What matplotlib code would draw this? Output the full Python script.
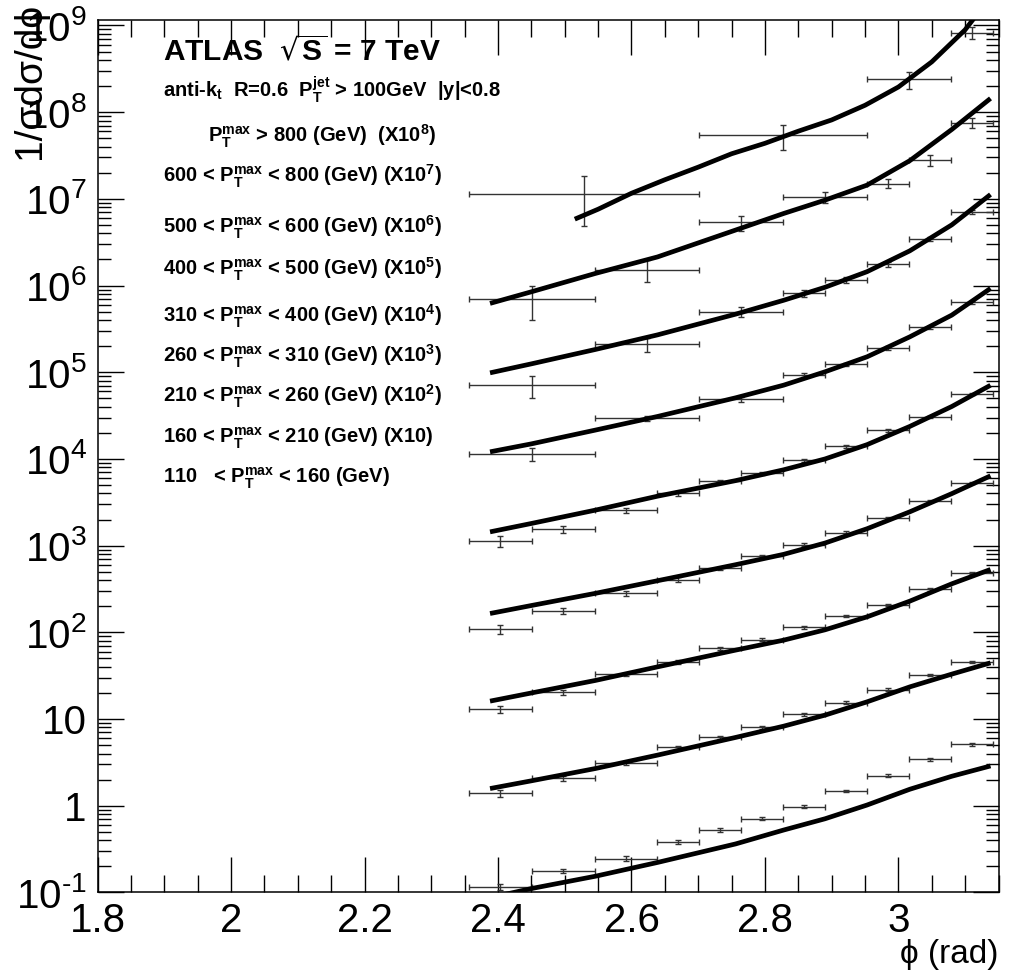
import numpy as np
import matplotlib
matplotlib.use("Agg")
import matplotlib.pyplot as plt
from matplotlib.ticker import LogLocator, MultipleLocator, NullFormatter

plt.rcParams['font.family'] = ['Liberation Sans', 'DejaVu Sans']

# bin edges of the delta-phi histograms, in units of pi
edges_fine = [0.75, 0.78, 0.81, 0.84, 0.86, 0.88, 0.90, 0.92, 0.94, 0.96, 0.98, 1.00]
edges_mid = [0.75, 0.81, 0.86, 0.90, 0.92, 0.94, 0.96, 0.98, 1.00]
edges_600 = [0.75, 0.81, 0.86, 0.90, 0.94, 0.96, 0.98, 1.00]
edges_800 = [0.75, 0.86, 0.94, 0.98, 1.00]

# measured 1/sigma dsigma/dphi, already multiplied by the scale factor of each slice
data_110 = [0.116, 0.177, 0.246, 0.384, 0.524, 0.713, 0.97, 1.47, 2.23, 3.42, 5.1]
data_160 = [1.39, 2.07, 3.13, 4.7, 6.2, 8.1, 11.4, 15.5, 21.9, 32.0, 45.7]
data_210 = [12.9, 20.3, 32.7, 45.7, 66.0, 82.7, 114, 154, 206, 313, 486]
data_260 = [108, 176, 281, 407, 546, 757, 1030, 1410, 2090, 3290, 5300]
data_310 = [1130, 1550, 2550, 4000, 5500, 6800, 9700, 14000, 21500, 30600, 56000]
data_400 = [11300, 29300, 48600, 94000, 123000, 191000, 329000, 640000]
data_500 = [71000, 209000, 497000, 810000, 1150000, 1750000, 3430000, 7000000]
data_600 = [700000, 1530000, 5350000, 10500000, 15000000, 27900000, 75000000]
data_800 = [11500000, 54000000, 238000000, 820000000]

# relative uncertainties
rel_110 = [0.08, 0.06, 0.06, 0.06, 0.05, 0.05, 0.04, 0.03, 0.03, 0.03, 0.03]
rel_160 = [0.08, 0.06, 0.05, 0.05, 0.04, 0.04, 0.04, 0.03, 0.03, 0.03, 0.03]
rel_210 = [0.09, 0.07, 0.05, 0.05, 0.04, 0.04, 0.04, 0.03, 0.03, 0.03, 0.03]
rel_260 = [0.12, 0.08, 0.06, 0.06, 0.05, 0.04, 0.04, 0.04, 0.03, 0.03, 0.03]
rel_310 = [0.15, 0.10, 0.07, 0.06, 0.05, 0.05, 0.04, 0.04, 0.04, 0.03, 0.03]
rel_400 = [0.17, 0.07, 0.06, 0.05, 0.05, 0.05, 0.04, 0.04]
rel_500 = [0.29, 0.19, 0.13, 0.10, 0.08, 0.07, 0.06, 0.05]
rel_600 = [0.43, 0.29, 0.20, 0.15, 0.12, 0.15, 0.13]
rel_800 = [0.58, 0.33, 0.23, 0.16]

# theory predictions
curve_phi = [2.388, 2.450, 2.546, 2.639, 2.756, 2.828, 2.890, 2.953, 3.017, 3.080, 3.138]
curve_110 = [0.087, 0.111, 0.154, 0.222, 0.363, 0.525, 0.708, 1.02, 1.55, 2.19, 2.88]
curve_160 = [1.58, 1.94, 2.69, 3.84, 6.14, 8.28, 11.1, 15.8, 23.5, 33.0, 44.5]
curve_210 = [16.1, 20.0, 27.9, 40.0, 62.4, 81.3, 107, 151, 229, 363, 531]
curve_260 = [165, 204, 282, 394, 603, 794, 1072, 1567, 2455, 3981, 6383]
curve_310 = [1442, 1803, 2570, 3720, 5623, 7499, 10000, 14620, 23710, 40270, 70790]
curve_400 = [12080, 14930, 21530, 30900, 50700, 70960, 101200, 150700, 255900, 456000, 926800]
curve_500 = [98400, 125000, 183200, 269800, 467700, 676100, 955000, 1445000, 2512000, 5012000, 11220000]
curve_600 = [622300, 847200, 1380000, 2138000, 4365000, 6776000, 9660000, 14390000, 27540000, 63100000, 143900000]
curve_phi_800 = [2.515, 2.55, 2.60, 2.65, 2.70, 2.75, 2.80, 2.85, 2.90, 2.95, 3.00, 3.05, 3.10, 3.13]
curve_800 = [5.83e6, 7.59e6, 1.16e7, 1.66e7, 2.32e7, 3.31e7, 4.37e7, 6.03e7, 8.13e7,
             1.2e8, 1.95e8, 3.8e8, 8.91e8, 1.78e9]

series = [
    (edges_fine, data_110, rel_110, curve_phi, curve_110),
    (edges_fine, data_160, rel_160, curve_phi, curve_160),
    (edges_fine, data_210, rel_210, curve_phi, curve_210),
    (edges_fine, data_260, rel_260, curve_phi, curve_260),
    (edges_fine, data_310, rel_310, curve_phi, curve_310),
    (edges_mid, data_400, rel_400, curve_phi, curve_400),
    (edges_mid, data_500, rel_500, curve_phi, curve_500),
    (edges_600, data_600, rel_600, curve_phi, curve_600),
    (edges_800, data_800, rel_800, curve_phi_800, curve_800),
]

fig = plt.figure(figsize=(10.09, 9.74), dpi=100)
ax = fig.add_axes([0.0968, 0.0837, 0.8928, 0.8958])

for edges, vals, rel, cphi, cvals in series:
    e = np.pi * np.array(edges)
    centre = 0.5 * (e[1:] + e[:-1])
    half = 0.5 * (e[1:] - e[:-1])
    vals = np.array(vals)
    ax.errorbar(centre, vals, xerr=half, yerr=vals * np.array(rel), fmt='none',
                ecolor='#333333', elinewidth=1.0, capsize=2.2, capthick=1.0, zorder=2)
    ax.plot(cphi, cvals, color='black', lw=3.4, solid_capstyle='butt', zorder=3)

ax.set_yscale('log')
ax.set_xlim(1.8, 3.15)
ax.set_ylim(0.1, 1.156e9)

ax.set_xticks([1.8, 2.0, 2.2, 2.4, 2.6, 2.8, 3.0], ["1.8", "2", "2.2", "2.4", "2.6", "2.8", "3"])
ax.xaxis.set_minor_locator(MultipleLocator(0.05))
ylabels = ["$\\mathdefault{10^{\u20101}}$", "1", "10"] + [r"$\mathdefault{10^{%d}}$" % k for k in range(2, 10)]
ax.set_yticks([10.0 ** k for k in range(-1, 10)], ylabels)
ax.yaxis.set_minor_locator(LogLocator(base=10, subs=np.arange(2, 10), numticks=100))
ax.yaxis.set_minor_formatter(NullFormatter())

ax.tick_params(which='both', direction='in', top=True, right=True, width=1.0, labelsize=29)
ax.tick_params(axis='x', which='major', length=25, pad=7)
ax.tick_params(axis='x', which='minor', length=12.5)
ax.tick_params(axis='y', which='major', length=19, pad=8)
ax.tick_params(axis='y', which='minor', length=9.5)
for sp in ax.spines.values():
    sp.set_linewidth(1.1)

W, H = 1009.0, 974.0


def put(xpx, ypx, s, **kw):
    fig.text(xpx / W, 1 - ypx / H, s, **kw)


put(30, 3, "1/σdσ/dϕ", rotation=90, ha='center', va='top', fontsize=28)
put(998, 963, "ϕ (rad)", ha='right', va='baseline', fontsize=24)

put(163, 60, r"ATLAS  $\sqrt{\mathdefault{S}}$ = 7 TeV", fontsize=21.5, fontweight='bold', va='baseline')
put(163, 97, r"anti-k$\mathdefault{_{t}}$  R=0.6  $\mathdefault{P_{T}^{jet}}$ > 100GeV  |y|<0.8",
    fontsize=14.5, fontweight='bold', va='baseline')

ptmax = r"$\mathdefault{P_{T}^{max}}$"
legend_lines = [
    (208, 142, ptmax + r" > 800 (GeV)  (X$\mathdefault{10^{8}}$)"),
    (163, 182, "600 < " + ptmax + r" < 800 (GeV) (X$\mathdefault{10^{7}}$)"),
    (163, 233, "500 < " + ptmax + r" < 600 (GeV) (X$\mathdefault{10^{6}}$)"),
    (163, 275, "400 < " + ptmax + r" < 500 (GeV) (X$\mathdefault{10^{5}}$)"),
    (163, 322, "310 < " + ptmax + r" < 400 (GeV) (X$\mathdefault{10^{4}}$)"),
    (163, 362, "260 < " + ptmax + r" < 310 (GeV) (X$\mathdefault{10^{3}}$)"),
    (163, 402, "210 < " + ptmax + r" < 260 (GeV) (X$\mathdefault{10^{2}}$)"),
    (163, 443, "160 < " + ptmax + " < 210 (GeV) (X10)"),
    (163, 483, "110   < " + ptmax + " < 160 (GeV)"),
]
for xpx, ypx, s in legend_lines:
    put(xpx, ypx, s, fontsize=14.5, fontweight='bold', va='baseline')

fig.savefig("out.png", dpi=100)
